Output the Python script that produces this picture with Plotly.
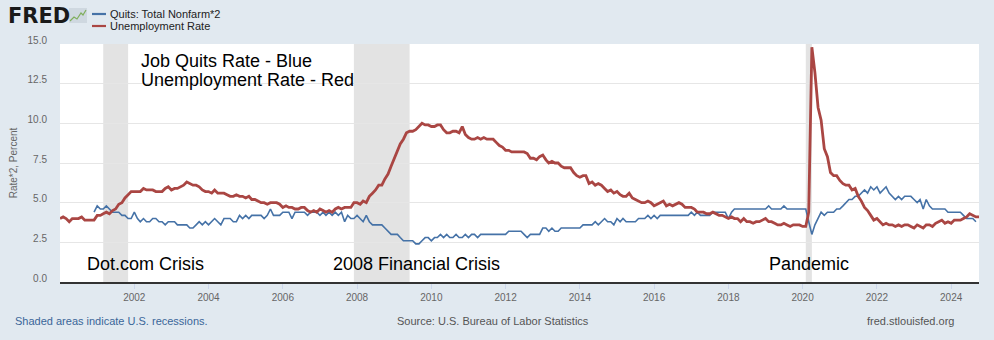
import plotly.graph_objects as go
import pandas as pd

# ---------------- data ----------------
# Unemployment rate, monthly, Jan 2000 - Oct 2024
unrate = [
    4.0, 4.1, 4.0, 3.8, 4.0, 4.0, 4.0, 4.1, 3.9, 3.9, 3.9, 3.9,   # 2000
    4.2, 4.2, 4.3, 4.4, 4.3, 4.5, 4.6, 4.9, 5.0, 5.3, 5.5, 5.7,   # 2001
    5.7, 5.7, 5.7, 5.9, 5.8, 5.8, 5.8, 5.7, 5.7, 5.7, 5.9, 6.0,   # 2002
    5.8, 5.9, 5.9, 6.0, 6.1, 6.3, 6.2, 6.1, 6.1, 6.0, 5.8, 5.7,   # 2003
    5.7, 5.6, 5.8, 5.6, 5.6, 5.6, 5.5, 5.4, 5.4, 5.5, 5.4, 5.4,   # 2004
    5.3, 5.4, 5.2, 5.2, 5.1, 5.0, 5.0, 4.9, 5.0, 5.0, 5.0, 4.9,   # 2005
    4.7, 4.8, 4.7, 4.7, 4.6, 4.6, 4.7, 4.7, 4.5, 4.4, 4.5, 4.4,   # 2006
    4.6, 4.5, 4.4, 4.5, 4.4, 4.6, 4.7, 4.6, 4.7, 4.7, 4.7, 5.0,   # 2007
    5.0, 4.9, 5.1, 5.0, 5.4, 5.6, 5.8, 6.1, 6.1, 6.5, 6.8, 7.3,   # 2008
    7.8, 8.3, 8.7, 9.0, 9.4, 9.5, 9.5, 9.6, 9.8, 10.0, 9.9, 9.9,  # 2009
    9.8, 9.8, 9.9, 9.9, 9.6, 9.4, 9.4, 9.5, 9.5, 9.4, 9.8, 9.3,   # 2010
    9.1, 9.0, 9.0, 9.1, 9.0, 9.1, 9.0, 9.0, 9.0, 8.8, 8.6, 8.5,   # 2011
    8.3, 8.3, 8.2, 8.2, 8.2, 8.2, 8.2, 8.1, 7.8, 7.8, 7.7, 7.9,   # 2012
    8.0, 7.7, 7.5, 7.6, 7.5, 7.5, 7.3, 7.2, 7.2, 7.2, 6.9, 6.7,   # 2013
    6.6, 6.7, 6.7, 6.2, 6.3, 6.1, 6.2, 6.1, 5.9, 5.7, 5.8, 5.6,   # 2014
    5.7, 5.5, 5.4, 5.4, 5.6, 5.3, 5.2, 5.1, 5.0, 5.0, 5.1, 5.0,   # 2015
    4.8, 4.9, 5.0, 5.1, 4.8, 4.9, 4.8, 4.9, 5.0, 4.9, 4.7, 4.7,   # 2016
    4.7, 4.6, 4.4, 4.4, 4.4, 4.3, 4.3, 4.4, 4.3, 4.2, 4.2, 4.1,   # 2017
    4.0, 4.1, 4.0, 4.0, 3.8, 4.0, 3.8, 3.8, 3.7, 3.8, 3.8, 3.9,   # 2018
    4.0, 3.8, 3.8, 3.7, 3.6, 3.6, 3.7, 3.6, 3.5, 3.6, 3.6, 3.6,   # 2019
    3.5, 3.5, 4.4, 14.8, 13.2, 11.0, 10.2, 8.4, 7.9, 6.9, 6.7, 6.7,  # 2020
    6.4, 6.2, 6.1, 6.1, 5.8, 5.9, 5.4, 5.1, 4.7, 4.5, 4.2, 3.9,   # 2021
    4.0, 3.8, 3.6, 3.7, 3.6, 3.6, 3.5, 3.6, 3.5, 3.6, 3.6, 3.5,   # 2022
    3.4, 3.6, 3.5, 3.4, 3.6, 3.6, 3.5, 3.7, 3.8, 3.9, 3.7, 3.8,   # 2023
    3.7, 3.9, 3.9, 3.9, 4.0, 4.1, 4.3, 4.2, 4.1, 4.1,             # 2024
]
unrate_start = "2000-01-01"

# Quits rate (total nonfarm) x 2, monthly, Dec 2000 - Sep 2024
quits2 = [
    4.4,                                                            # Dec 2000
    4.8, 4.6, 4.6, 4.8, 4.6, 4.4, 4.4, 4.4, 4.2, 4.2, 4.0, 4.0,   # 2001
    4.4, 4.0, 3.8, 4.0, 3.8, 3.8, 4.0, 4.0, 3.8, 3.8, 3.6, 3.8,   # 2002
    3.8, 3.8, 3.6, 3.6, 3.6, 3.6, 3.4, 3.4, 3.6, 3.8, 3.6, 3.8,   # 2003
    3.6, 3.8, 4.0, 3.8, 3.6, 4.0, 4.0, 4.0, 3.8, 3.8, 4.2, 4.0,   # 2004
    4.2, 4.0, 4.2, 4.2, 4.2, 4.2, 4.0, 4.2, 4.6, 4.2, 4.2, 4.2,   # 2005
    4.4, 4.4, 4.4, 4.0, 4.4, 4.4, 4.4, 4.4, 4.2, 4.4, 4.4, 4.4,   # 2006
    4.2, 4.4, 4.2, 4.4, 4.2, 4.4, 4.2, 4.4, 3.8, 4.2, 4.0, 4.0,   # 2007
    4.2, 4.0, 3.8, 4.2, 3.8, 3.6, 3.6, 3.6, 3.6, 3.4, 3.2, 3.0,   # 2008
    3.0, 3.0, 2.8, 2.6, 2.6, 2.6, 2.6, 2.4, 2.4, 2.6, 2.8, 2.8,   # 2009
    2.6, 2.8, 2.8, 3.0, 2.8, 3.0, 2.8, 2.8, 3.0, 2.8, 2.8, 3.0,   # 2010
    2.8, 3.0, 3.0, 2.8, 3.0, 3.0, 3.0, 3.0, 3.0, 3.0, 3.0, 3.0,   # 2011
    3.0, 3.2, 3.2, 3.2, 3.2, 3.2, 3.0, 2.8, 3.0, 3.0, 3.0, 3.0,   # 2012
    3.4, 3.4, 3.2, 3.4, 3.2, 3.2, 3.4, 3.4, 3.4, 3.4, 3.4, 3.4,   # 2013
    3.4, 3.6, 3.6, 3.6, 3.6, 3.8, 3.6, 3.8, 4.0, 3.8, 3.8, 3.6,   # 2014
    4.0, 3.8, 4.0, 3.8, 3.8, 3.8, 3.8, 4.0, 4.0, 4.0, 4.2, 4.0,   # 2015
    4.2, 4.0, 4.2, 4.2, 4.2, 4.2, 4.2, 4.2, 4.2, 4.2, 4.2, 4.2,   # 2016
    4.4, 4.2, 4.4, 4.2, 4.2, 4.2, 4.2, 4.4, 4.4, 4.4, 4.4, 4.4,   # 2017
    4.0, 4.4, 4.6, 4.6, 4.6, 4.6, 4.6, 4.6, 4.6, 4.6, 4.6, 4.6,   # 2018
    4.6, 4.8, 4.6, 4.6, 4.6, 4.6, 4.8, 4.6, 4.6, 4.6, 4.6, 4.6,   # 2019
    4.6, 4.6, 3.8, 3.0, 3.6, 4.0, 4.4, 4.2, 4.4, 4.4, 4.4, 4.6,   # 2020
    4.6, 4.8, 5.0, 5.2, 5.2, 5.4, 5.4, 5.6, 5.8, 5.6, 6.0, 5.8,   # 2021
    6.0, 5.6, 5.8, 6.0, 5.6, 5.4, 5.2, 5.4, 5.2, 5.4, 5.4, 5.4,   # 2022
    5.2, 5.0, 5.2, 4.6, 5.2, 4.8, 4.6, 4.6, 4.6, 4.6, 4.6, 4.4,   # 2023
    4.4, 4.4, 4.4, 4.4, 4.2, 4.0, 4.0, 4.0, 3.8,                  # 2024
]
quits_start = "2000-12-01"

series_names = ["Quits: Total Nonfarm*2", "Unemployment Rate"]
series_colors = ["#4572A7", "#AA4643"]

rec_start = ["2001-03-01", "2007-12-01", "2020-02-01"]
rec_end = ["2001-11-01", "2009-06-01", "2020-04-01"]

y_ticks = [0, 2.5, 5, 7.5, 10, 12.5, 15]
x_tick_years = [2002, 2004, 2006, 2008, 2010, 2012, 2014, 2016, 2018, 2020, 2022, 2024]

unrate_dates = pd.date_range(unrate_start, periods=len(unrate), freq="MS")
quits_dates = pd.date_range(quits_start, periods=len(quits2), freq="MS")

# ---------------- geometry helpers (pixel -> paper) ----------------
W, H = 994, 340
PL, PR, PT, PB = 60, 979, 44, 282


def fx(px):
    return (px - PL) / (PR - PL)


def fy(py):
    return (PB - py) / (PB - PT)


BASE = "Liberation Sans, Arial, sans-serif"
NARROW = "Liberation Sans Narrow, Arial Narrow, Liberation Sans, sans-serif"

fig = go.Figure()

fig.add_trace(go.Scatter(x=quits_dates, y=quits2, mode="lines",
                         name=series_names[0],
                         line=dict(color=series_colors[0], width=1.6)))
fig.add_trace(go.Scatter(x=unrate_dates, y=unrate, mode="lines",
                         name=series_names[1],
                         line=dict(color=series_colors[1], width=2.8)))

fig.update_layout(
    width=W, height=H,
    margin=dict(l=PL, r=W - PR, t=PT, b=H - PB, pad=0),
    paper_bgcolor="#e1e9f0",
    plot_bgcolor="#ffffff",
    showlegend=False,
    font=dict(family=BASE, size=10, color="#666666"),
    xaxis=dict(
        type="date",
        range=["2000-01-01", "2024-10-01"],
        tickvals=[f"{y}-01-01" for y in x_tick_years],
        ticktext=[str(y) for y in x_tick_years],
        showgrid=False, zeroline=False,
        showline=True, linecolor="#333333", linewidth=1.5,
        ticks="outside", ticklen=5, tickcolor="#ccd6eb", tickwidth=1,
        tickfont=dict(family=BASE, size=10, color="#666666"),
    ),
    yaxis=dict(
        range=[0, 15], tickvals=y_ticks, tickformat=".1f",
        showgrid=True, gridcolor="#e6e6e6", gridwidth=1,
        zeroline=False, showline=False, ticks="",
        tickfont=dict(family=BASE, size=10, color="#666666"),
        ticklabelstandoff=12, ticklabelshift=-4,
        title=dict(text="Rate*2, Percent", standoff=8,
                   font=dict(family=BASE, size=10, color="#666666")),
    ),
)

# recession shading
for s, e in zip(rec_start, rec_end):
    fig.add_shape(type="rect", xref="x", yref="paper", x0=s, x1=e, y0=0, y1=1,
                  fillcolor="#e3e3e3", line=dict(width=0), layer="below")

# FRED logo
fig.add_annotation(text="<b>FRED</b>", xref="paper", yref="paper",
                   x=fx(6), y=fy(16), xanchor="left", yanchor="middle",
                   showarrow=False,
                   font=dict(family="DejaVu Sans, sans-serif", size=21,
                             color="#1a1a1a"))
fig.add_shape(type="rect", xref="paper", yref="paper",
              x0=fx(69), x1=fx(87), y0=fy(23), y1=fy(8),
              fillcolor="#cfd8e0", line=dict(width=0))
fig.add_shape(type="path", xref="paper", yref="paper",
              path=f"M {fx(70)} {fy(21)} L {fx(74)} {fy(17)} L {fx(77)} {fy(19)} "
                   f"L {fx(81)} {fy(13)} L {fx(83)} {fy(15)} L {fx(86)} {fy(10)}",
              line=dict(color="#7fae5b", width=1.2))

# custom legend
for i, (nm, col) in enumerate(zip(series_names, series_colors)):
    py = 14 + 12 * i
    fig.add_shape(type="line", xref="paper", yref="paper",
                  x0=fx(92), x1=fx(106), y0=fy(py), y1=fy(py),
                  line=dict(color=col, width=2.2))
    fig.add_annotation(text=nm, xref="paper", yref="paper",
                       x=fx(109), y=fy(py), xanchor="left", yanchor="middle",
                       showarrow=False, borderpad=0,
                       font=dict(family=BASE, size=11, color="#222222"))

# in-chart labels
labels = [
    ("Job Quits Rate - Blue", 140, 61),
    ("Unemployment Rate - Red", 140, 80),
    ("Dot.com Crisis", 86, 264),
    ("2008 Financial Crisis", 332, 264),
    ("Pandemic", 768, 264),
]
for t, px, py in labels:
    fig.add_annotation(text=t, xref="paper", yref="paper",
                       x=fx(px), y=fy(py), xanchor="left", yanchor="middle",
                       showarrow=False, borderpad=0,
                       font=dict(family=BASE, size=18, color="#000000"))

# footer
fig.add_annotation(text="Shaded areas indicate U.S. recessions.",
                   xref="paper", yref="paper", x=fx(13), y=fy(321),
                   xanchor="left", yanchor="middle", showarrow=False,
                   font=dict(family=NARROW, size=11, color="#3a6699"))
fig.add_annotation(text="Source: U.S. Bureau of Labor Statistics",
                   xref="paper", yref="paper", x=fx(493), y=fy(321),
                   xanchor="center", yanchor="middle", showarrow=False,
                   font=dict(family=NARROW, size=11, color="#555555"))
fig.add_annotation(text="fred.stlouisfed.org",
                   xref="paper", yref="paper", x=fx(956), y=fy(321),
                   xanchor="right", yanchor="middle", showarrow=False,
                   font=dict(family=NARROW, size=11, color="#555555"))

fig.write_html("out.html")
